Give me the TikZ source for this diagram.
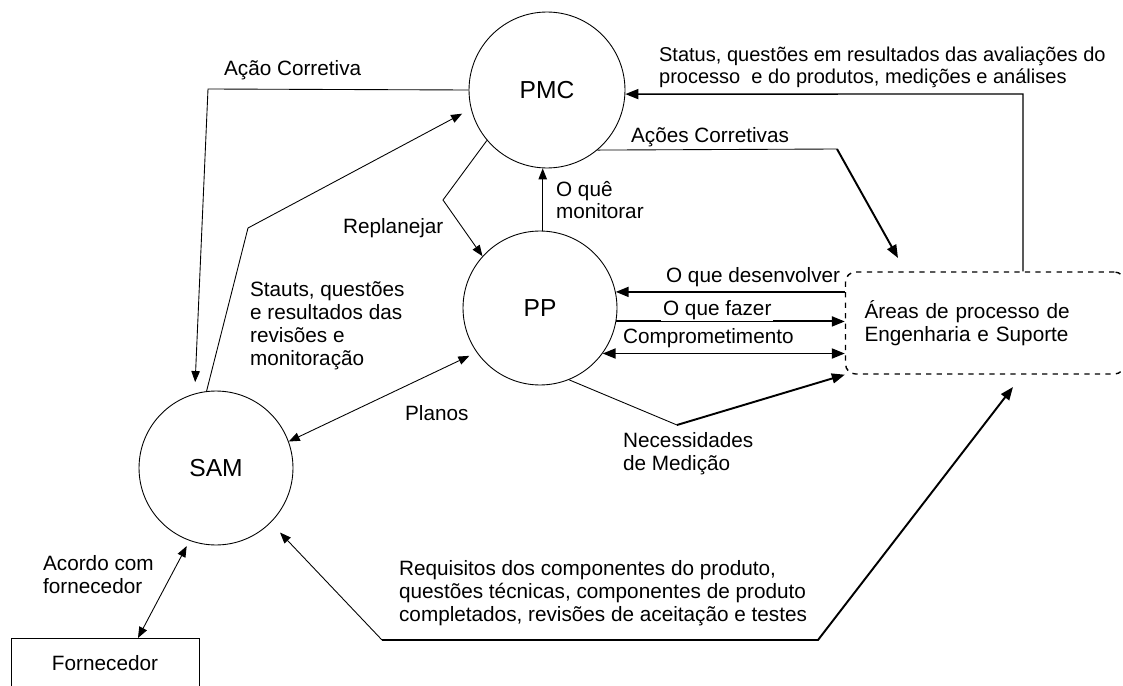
\documentclass[tikz,border=0pt]{standalone}
\usepackage{fontspec}
\setmainfont{Liberation Sans}
\usetikzlibrary{arrows.meta}
\tikzset{every picture/.append style={x=0.02cm, y=-0.02cm}}
\tikzset{
    dfd/.tip={Triangle[length=2.2mm, width=1.7mm]},
    dfdb/.tip={Triangle[length=2.6mm, width=2mm]},
    proc/.style={circle, draw, line width=0.5pt, inner sep=0pt,
    	font=\fontsize{14}{16}\selectfont},
    lbl/.style={anchor=west, align=left, inner sep=1pt, fill=white,
    	font=\fontsize{11.8}{13}\selectfont},
    flow/.style={line width=0.5pt},
    heavy/.style={line width=1.1pt}
}

\begin{document}
\begin{tikzpicture}
  \useasboundingbox (0, 0) rectangle (1123, 686);

  \node (pmc) [proc, minimum size=3.12cm] at (547, 90) {PMC};
  \node (pp) [proc, minimum size=3.08cm] at (540, 308) {PP};
  \node (sam) [proc, minimum size=3.08cm] at (216, 468) {SAM};
  \node (forn) [draw, line width=0.5pt, anchor=north, minimum width=3.76cm,
    minimum height=1cm, font=\fontsize{11.8}{13}\selectfont] at (105, 638) {Fornecedor};
  \node (areas) [draw, dashed, line width=0.8pt, rounded corners=0.2cm,
    minimum width=5.58cm, minimum height=2.04cm, text width=4.82cm,
    inner xsep=0.38cm, align=left, font=\fontsize{11.8}{13}\selectfont]
    at (985, 323) {Áreas de processo de\\Engenharia e Suporte};

  \coordinate (acK) at (208, 89);
  \coordinate (stK) at (248, 228);
  \coordinate (rpK) at (443, 200);
  \coordinate (rsK) at (1023, 94);
  \coordinate (acsK) at (837, 149);
  \coordinate (acsE) at (898, 258);
  \coordinate (ndK) at (677, 425);
  \coordinate (rqA) at (382, 640);
  \coordinate (rqB) at (818, 640);
  \coordinate (rqE) at (1013, 387);

  % PMC, PP, SAM
  \draw [flow, -dfd, shorten >=0.23cm] (pmc.west) -- (acK) -- (sam.106);
  \draw [flow, -dfd, shorten >=0.2cm] (sam.97) -- (stK) -- (pmc.194);
  \draw [flow, -dfd] (pmc.220) -- (rpK) -- (pp.138);
  \draw [flow, -dfd] (pp.88) -- (pp.88 |- pmc.south);
  \draw [flow, dfd-dfd, shorten >=0.16cm] (sam.20) -- (pp.215);
  \draw [flow, dfd-dfd, shorten <=0.12cm] (sam.250) -- ([xshift=0.66cm]forn.north);

  % Engenharia e Suporte
  \draw [line width=0.8pt, -dfdb] (areas.north -| rsK) -- (rsK) -- (pmc.357);
  \draw [flow] (pmc.310) -- (acsK);
  \draw [heavy, -dfdb] (acsK) -- (acsE);
  \draw [heavy, -dfdb] (pp.12 -| areas.west) -- (pp.12);
  \draw [heavy, -dfdb] (pp.-10) -- (pp.-10 -| areas.west);
  \draw [heavy, dfdb-dfdb] (pp.-36) -- (pp.-36 -| areas.west);
  \draw [flow] (pp.-68) -- (ndK);
  \draw [heavy, -dfdb] (ndK) -- (areas.south west);
  \draw [flow, -dfd, shorten >=0.27cm] (rqA) -- (sam.-45);
  \draw [heavy, -dfdb] (rqA) -- (rqB) -- (rqE);

  \node (lAc) [lbl] at (222, 70) {Ação Corretiva};
  \node (lSt) [lbl] at (248, 326) {Stauts, questões\\e resultados das\\revisões e\\monitoração};
  \node (lRp) [lbl] at (341, 228) {Replanejar};
  \node (lMo) [lbl] at (554, 200) {O quê\\monitorar};
  \node (lRs) [lbl, font=\fontsize{11.4}{12.6}\selectfont] at (657, 67)
    {Status, questões em resultados das avaliações do\\processo\ \ e do produtos, medições e análises};
  \node (lAcs) [lbl] at (629, 137) {Ações Corretivas};
  \node (lDe) [lbl] at (664, 277) {O que desenvolver};
  \node (lFa) [lbl] at (661, 310) {O que fazer};
  \node (lCo) [lbl] at (621, 338) {Comprometimento};
  \node (lNe) [lbl] at (621, 454) {Necessidades\\de Medição};
  \node (lPl) [lbl] at (403, 413) {Planos};
  \node (lAf) [lbl] at (41, 575) {Acordo com\\fornecedor};
  \node (lRq) [lbl] at (397, 593) {Requisitos dos componentes do produto,\\questões técnicas, componentes de produto\\completados, revisões de aceitação e testes};

\end{tikzpicture}
\end{document}
